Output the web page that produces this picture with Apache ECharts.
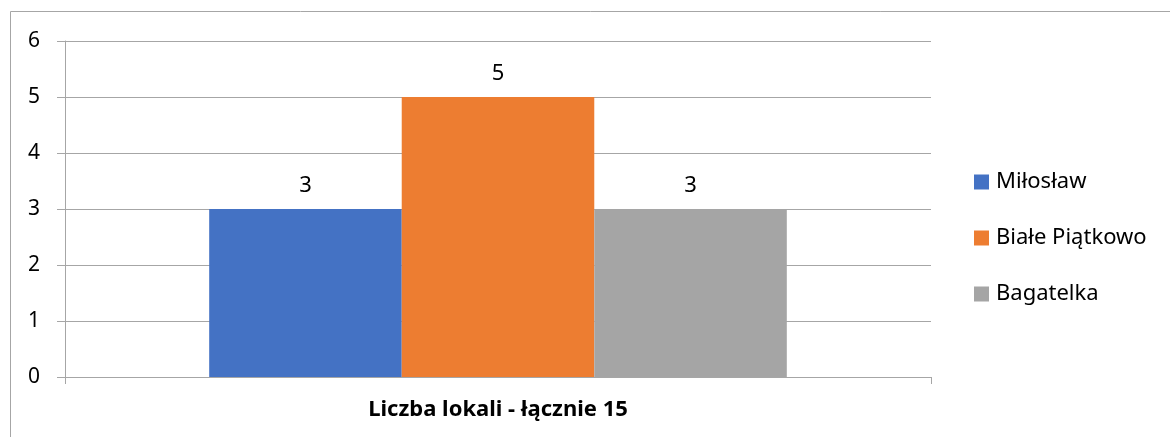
<!DOCTYPE html>
<html lang="pl">
<head>
    <meta charset="UTF-8">
    <title>Liczba lokali</title>
    <script src="https://cdn.jsdelivr.net/npm/echarts@6/dist/echarts.min.js"></script>
    <style>
        html, body { margin: 0; padding: 0; background: #fff; }
        #chart { width: 1170px; height: 437px; }
    </style>
</head>
<body>
<div id="chart"></div>
<script>
    // data
    let categories = ['Liczba lokali - łącznie 15'];
    let seriesNames = ['Miłosław', 'Białe Piątkowo', 'Bagatelka'];
    let seriesValues = [[3], [5], [3]];
    let colors = ['#4472C4', '#ED7D31', '#A5A5A5'];
    let yTicks = [0, 1, 2, 3, 4, 5, 6];

    let font = 'Noto Sans';
    let myChart = echarts.init(document.getElementById('chart'), null, {renderer: 'canvas'});

    let series = seriesNames.map(function (name, i) {
        return {
            name: name,
            type: 'bar',
            data: seriesValues[i],
            itemStyle: {color: colors[i]},
            barGap: '0%',
            barCategoryGap: '33.3%',
            label: {
                show: true,
                position: 'top',
                distance: 12,
                color: '#000',
                fontSize: 22,
                fontFamily: font
            }
        };
    });

    myChart.setOption({
        animation: false,
        graphic: [{
            type: 'rect',
            shape: {x: 10.5, y: 11.5, width: 1200, height: 500},
            style: {fill: 'none', stroke: '#a6a6a6', lineWidth: 1},
            silent: true
        }],
        grid: {left: 65, right: 239, top: 41, bottom: 60},
        legend: {
            orient: 'vertical',
            left: 974,
            top: 170,
            padding: 0,
            itemWidth: 15,
            itemHeight: 15,
            itemGap: 32,
            icon: 'rect',
            textStyle: {fontSize: 22, lineHeight: 24, color: '#000', fontFamily: font, padding: [0, 0, 0, 2]},
            data: seriesNames
        },
        xAxis: {
            type: 'category',
            data: categories,
            axisLine: {lineStyle: {color: '#a6a6a6'}},
            axisTick: {show: true, length: 7, lineStyle: {color: '#a6a6a6'}},
            axisLabel: {fontSize: 22, fontWeight: 'bold', color: '#000', fontFamily: font, margin: 22}
        },
        yAxis: {
            type: 'value',
            min: yTicks[0],
            max: yTicks[yTicks.length - 1],
            interval: 1,
            axisLine: {show: true, lineStyle: {color: '#a6a6a6'}},
            axisTick: {show: true, length: 8, lineStyle: {color: '#a6a6a6'}},
            splitLine: {lineStyle: {color: '#a6a6a6'}},
            axisLabel: {fontSize: 21, color: '#000', fontFamily: font, margin: 25}
        },
        series: series
    });
</script>
</body>
</html>
